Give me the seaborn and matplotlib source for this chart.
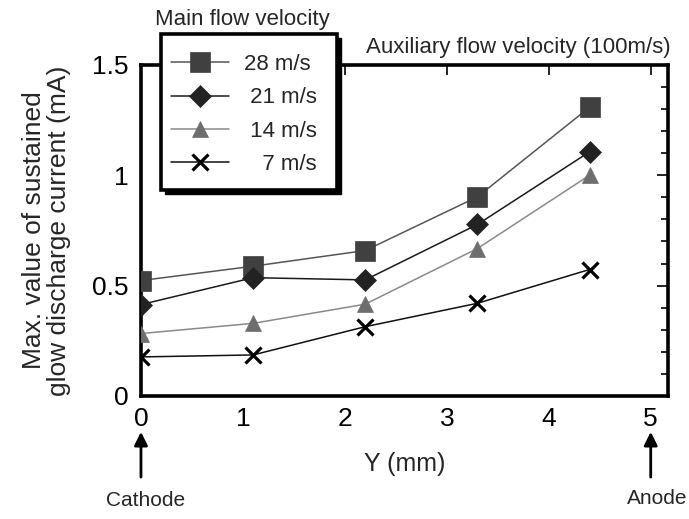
import pandas as pd
import matplotlib.pyplot as plt
import matplotlib.patches as mpatches
import seaborn as sns
import numpy as np

sns.set_theme(style='white')
plt.rcParams['font.family'] = ['Liberation Sans', 'DejaVu Sans']

# data
y_pos = [0, 1.1, 2.2, 3.3, 4.4]
v28 = [0.523, 0.588, 0.659, 0.902, 1.308]
v21 = [0.414, 0.536, 0.526, 0.777, 1.106]
v14 = [0.283, 0.329, 0.416, 0.668, 1.0]
v7 = [0.177, 0.186, 0.314, 0.42, 0.573]
labels = ['28 m/s', '21 m/s', '14 m/s', '7 m/s']

df = pd.DataFrame({
    'Y': y_pos * 4,
    'I': v28 + v21 + v14 + v7,
    'speed': [l for l in labels for _ in y_pos],
})

line_cols = {'28 m/s': '#555555', '21 m/s': '#1a1a1a', '14 m/s': '#8a8a8a', '7 m/s': '#111111'}
mark_cols = {'28 m/s': '#404040', '21 m/s': '#222222', '14 m/s': '#6e6e6e', '7 m/s': '#000000'}
markers = {'28 m/s': 's', '21 m/s': 'D', '14 m/s': '^', '7 m/s': 'x'}
msizes = {'28 m/s': 14, '21 m/s': 11, '14 m/s': 12, '7 m/s': 11}

fig = plt.figure(figsize=(6.89, 5.19), dpi=100)
ax = fig.add_axes([0.2046, 0.237, 0.765, 0.638])

for lab in labels:
    sub = df[df['speed'] == lab]
    sns.lineplot(data=sub, x='Y', y='I', ax=ax, color=line_cols[lab], lw=1.1,
                 marker=markers[lab], markersize=msizes[lab],
                 markerfacecolor=mark_cols[lab], markeredgecolor=mark_cols[lab],
                 markeredgewidth=2.3 if lab == '7 m/s' else 0.5,
                 label=lab, legend=False, zorder=3)

ax.set_xlim(0, 5.17)
ax.set_ylim(0, 1.5)
ax.set_xticks([0, 1, 2, 3, 4, 5])
ax.set_xticklabels(['0', '1', '2', '3', '4', '5'], fontsize=19)
ax.set_yticks([0, 0.5, 1, 1.5])
ax.set_yticklabels(['0', '0.5', '1', '1.5'], fontsize=19)
ax.set_yticks(np.arange(0, 1.51, 0.1), minor=True)
ax.tick_params(axis='both', which='both', direction='in', top=True, right=True,
               colors='black', width=1.2)
ax.tick_params(axis='x', which='major', length=7, pad=8)
ax.tick_params(axis='y', which='major', length=8, pad=9)
ax.tick_params(axis='y', which='minor', length=5)
for s in ax.spines.values():
    s.set_linewidth(2.6)
    s.set_color('black')

ax.set_xlabel('Y (mm)', fontsize=18, labelpad=15)
ax.set_ylabel('Max. value of sustained\nglow discharge current (mA)', fontsize=19,
              labelpad=15, linespacing=1.05)

# legend box drawn by hand (frame with black drop shadow)
W, H = 689, 519
bx0, bx1, by0, by1 = 161, 337, 34, 190
shadow = mpatches.Rectangle((bx0 / W + 4 / W, 1 - by1 / H - 4 / H), (bx1 - bx0) / W, (by1 - by0) / H,
                            transform=fig.transFigure, facecolor='black', edgecolor='black',
                            zorder=8)
frame = mpatches.Rectangle((bx0 / W, 1 - by1 / H), (bx1 - bx0) / W, (by1 - by0) / H,
                           transform=fig.transFigure, facecolor='white', edgecolor='black',
                           lw=2.6, zorder=9)
fig.add_artist(shadow)
fig.add_artist(frame)

handles = [plt.Line2D([], [], color=line_cols[l], lw=1.1, marker=markers[l],
                      markersize=msizes[l], markerfacecolor=mark_cols[l],
                      markeredgecolor=mark_cols[l],
                      markeredgewidth=2.3 if l == '7 m/s' else 0.5) for l in labels]
leg = fig.legend(handles, ['28 m/s', ' 21 m/s', ' 14 m/s', '   7 m/s'], loc='upper left',
                 bbox_to_anchor=(160 / W, 1 - 43 / H), fontsize=16, frameon=False,
                 handlelength=2.6, labelspacing=0.55, borderpad=0.0, handletextpad=0.7)
leg.set_zorder(10)

fig.text(0.225, 0.963, 'Main flow velocity', fontsize=16, ha='left', va='center')
fig.text(0.973, 0.908, 'Auxiliary flow velocity (100m/s)', fontsize=16, ha='right', va='center')

# electrode arrows
ax.annotate('', xy=(0, -0.15), xytext=(0, -0.38), xycoords='data', textcoords='data',
            arrowprops=dict(arrowstyle='-|>', color='black', lw=2, mutation_scale=20),
            annotation_clip=False)
ax.annotate('', xy=(5, -0.15), xytext=(5, -0.38), xycoords='data', textcoords='data',
            arrowprops=dict(arrowstyle='-|>', color='black', lw=2, mutation_scale=20),
            annotation_clip=False)
fig.text(146 / W, 1 - 500 / H, 'Cathode', fontsize=15, ha='center', va='center')
fig.text(687 / W, 1 - 498 / H, 'Anode', fontsize=15, ha='right', va='center')

fig.savefig('out.png', dpi=100)
